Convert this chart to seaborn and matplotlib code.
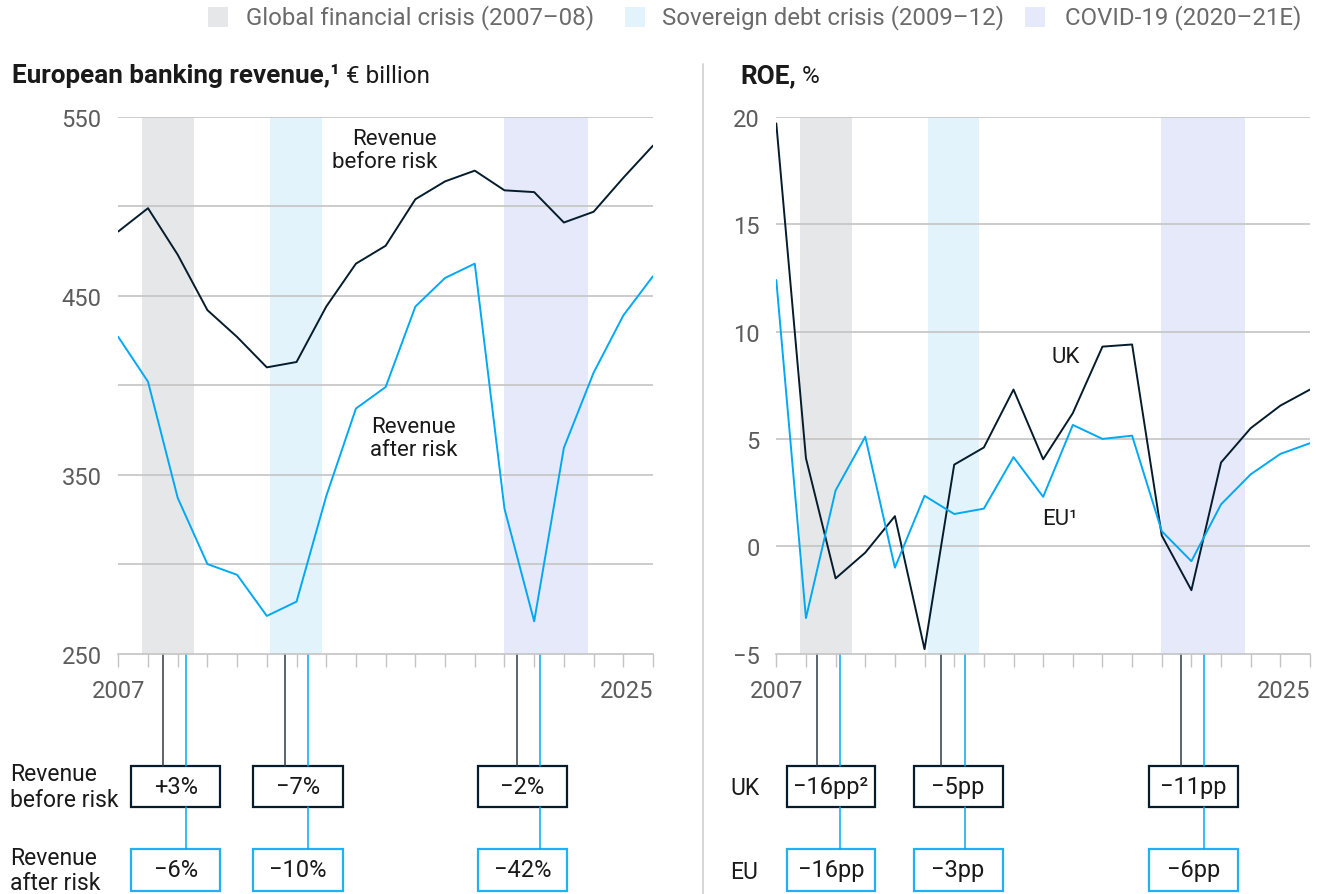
import matplotlib
matplotlib.use("Agg")
import matplotlib.pyplot as plt
import matplotlib.transforms as mtransforms
from matplotlib.patches import Rectangle
from matplotlib.lines import Line2D
import pandas as pd
import seaborn as sns

# ---------------- data ----------------
years = list(range(2007, 2026))
revenue_before_risk = [486, 499, 473, 442, 427, 410, 413, 444, 468, 478, 504, 514, 520,
                       509, 508, 491, 497, 516, 534]
revenue_after_risk = [427, 402, 337, 300, 294, 271, 279, 338, 387, 399, 444, 460, 468,
                      331, 268, 365, 407, 439, 461]
roe_uk = [19.7, 4.1, -1.5, -0.3, 1.4, -4.8, 3.8, 4.6, 7.3, 4.05, 6.2, 9.3, 9.4,
          0.5, -2.05, 3.9, 5.5, 6.55, 7.3]
roe_eu = [12.4, -3.35, 2.6, 5.1, -1.0, 2.35, 1.5, 1.75, 4.15, 2.3, 5.65, 5.0, 5.15,
          0.7, -0.7, 1.95, 3.35, 4.3, 4.8]

crisis_labels = ["Global financial crisis (2007–08)", "Sovereign debt crisis (2009–12)",
                 "COVID-19 (2020–21E)"]
crisis_start = [2007.80, 2012.12, 2019.98]
crisis_end = [2009.55, 2013.85, 2022.82]

rev_before_change = ["+3%", "−7%", "−2%"]
rev_after_change = ["−6%", "−10%", "−42%"]
uk_change = ["−16pp²", "−5pp", "−11pp"]
eu_change = ["−16pp", "−3pp", "−6pp"]

rev_yticks = [250, 350, 450, 550]
rev_grid = [300, 350, 400, 450, 500, 550]
roe_yticks = [-5, 0, 5, 10, 15, 20]
roe_grid = [0, 5, 10, 15, 20]

# ---------------- style ----------------
DARK = "#051c2c"
CYAN = "#00a9f4"
GRID = "#c4c4c4"
TICKC = "#5c5c5c"
crisis_colors = ["#e6e7e8", "#e2f3fc", "#e6e9f9"]

sns.set_theme(style="white")
plt.rcParams['font.family'] = ['Roboto', 'DejaVu Sans']

W, H = 1328, 895
fig = plt.figure(figsize=(W / 100, H / 100), dpi=100)


def fx(px):
    return px / W


def fy(py):
    return 1 - py / H


axL = fig.add_axes([fx(118.3), fy(654.5), (653 - 118.3) / W, (654.5 - 118) / H])
axR = fig.add_axes([fx(776.3), fy(654.5), (1310 - 776.3) / W, (654.5 - 118) / H])

df_rev = pd.DataFrame({
    "year": years * 2,
    "value": revenue_before_risk + revenue_after_risk,
    "series": ["Revenue before risk"] * len(years) + ["Revenue after risk"] * len(years),
})
df_roe = pd.DataFrame({
    "year": years * 2,
    "value": roe_uk + roe_eu,
    "series": ["UK"] * len(years) + ["EU"] * len(years),
})

sns.lineplot(data=df_rev, x="year", y="value", hue="series",
             palette={"Revenue before risk": DARK, "Revenue after risk": CYAN},
             linewidth=1.4, legend=False, ax=axL, zorder=3)
sns.lineplot(data=df_roe, x="year", y="value", hue="series",
             palette={"UK": DARK, "EU": CYAN},
             linewidth=1.4, legend=False, ax=axR, zorder=3)


def style_axis(ax, ylim, grid_vals, ytick_vals):
    ax.set_xlim(years[0], years[-1])
    ax.set_ylim(*ylim)
    ax.set_xlabel("")
    ax.set_ylabel("")
    ax.patch.set_alpha(0)
    for s, e, c in zip(crisis_start, crisis_end, crisis_colors):
        ax.axvspan(s, e, color=c, lw=0, zorder=0)
    for v in grid_vals:
        ax.axhline(v, color=GRID, lw=1.2, zorder=1)
    for side in ["top", "right", "left"]:
        ax.spines[side].set_visible(False)
    ax.spines["bottom"].set_color(GRID)
    ax.spines["bottom"].set_linewidth(1.2)
    ax.set_xticks(years)
    ax.set_xticklabels([str(years[0])] + [""] * (len(years) - 2) + [str(years[-1])])
    ax.get_xticklabels()[-1].set_horizontalalignment("right")
    ax.tick_params(axis="x", direction="out", length=9.5, width=1, color=GRID,
                   pad=9, labelsize=17, labelcolor=TICKC, bottom=True)
    ax.set_yticks(ytick_vals)
    ax.set_yticklabels([str(v).replace("-", "−") for v in ytick_vals])
    ax.tick_params(axis="y", length=0, pad=12, labelsize=17, labelcolor=TICKC, left=True)
    ax.grid(False)


style_axis(axL, (250, 550), rev_grid, rev_yticks)
style_axis(axR, (-5, 20), roe_grid, roe_yticks)

# inline labels
axL.text(2017.73, 531.5, "Revenue\nbefore risk", ha="right", va="center",
         multialignment="right", fontsize=16, color="#1a1a1a", linespacing=1.15, zorder=4)
axL.text(2016.95, 370.5, "Revenue\nafter risk", ha="center", va="center",
         multialignment="center", fontsize=16, color="#1a1a1a", linespacing=1.15, zorder=4)
axR.text(2016.77, 8.82, "UK", ha="center", va="center", fontsize=16, color="#1a1a1a", zorder=4)
axR.text(2016.57, 1.27, "EU¹", ha="center", va="center", fontsize=16, color="#1a1a1a", zorder=4)

# titles (bold part + regular part on a common baseline)
renderer = fig.canvas.get_renderer()
title_y = fy(83.3)
tL = fig.text(fx(11.7), title_y, "European banking revenue,¹", fontsize=18.8,
              fontweight="bold", color="#1a1a1a", va="baseline", ha="left")
xL_end = tL.get_window_extent(renderer).x1 / W
fig.text(xL_end, title_y, " € billion", fontsize=17.5, color="#1a1a1a",
         va="baseline", ha="left")
tR = fig.text(fx(740), title_y, "ROE,", fontsize=18.8, fontweight="bold",
              color="#1a1a1a", va="baseline", ha="left")
xR_end = tR.get_window_extent(renderer).x1 / W
fig.text(xR_end, title_y, " %", fontsize=17.5, color="#1a1a1a", va="baseline", ha="left")

# legend
legend_box_x = [207.6, 625.0, 1025.0]
legend_text_x = [246.0, 662.0, 1065.0]
for bx, tx, lab, c in zip(legend_box_x, legend_text_x, crisis_labels, crisis_colors):
    fig.add_artist(Rectangle((fx(bx), fy(28)), 20 / W, 20 / H, transform=fig.transFigure,
                             facecolor=c, edgecolor="none"))
    fig.text(fx(tx), fy(18), lab, fontsize=17.3, color="#6b6b6b", va="center", ha="left")

# divider
fig.add_artist(Line2D([fx(702.7), fx(702.7)], [fy(65), 0], transform=fig.transFigure,
                      color="#cfcfcf", lw=1.2))

# ---------------- change boxes ----------------
axis_y = fy(654.5)
black_top, black_bot = fy(767), fy(808.3)
blue_top, blue_bot = fy(850.3), fy(891.7)
box_w = 3.0  # in years


def change_boxes(ax, black_x, blue_x, box_cx, top_vals, bot_vals):
    tr = mtransforms.blended_transform_factory(ax.transData, fig.transFigure)
    for bx, cx, box_c, tv, bv in zip(black_x, blue_x, box_cx, top_vals, bot_vals):
        ax.add_line(Line2D([bx, bx], [axis_y, black_top], transform=tr, color="#2e3b47",
                           lw=1.1, clip_on=False))
        ax.add_line(Line2D([cx, cx], [axis_y, black_top], transform=tr, color=CYAN,
                           lw=1.1, clip_on=False))
        ax.add_line(Line2D([cx, cx], [black_bot, blue_top], transform=tr, color=CYAN,
                           lw=1.1, clip_on=False))
        ax.add_patch(Rectangle((box_c - box_w / 2, black_bot), box_w, black_top - black_bot,
                               transform=tr, facecolor="white", edgecolor=DARK, lw=1.6,
                               clip_on=False))
        ax.add_patch(Rectangle((box_c - box_w / 2, blue_bot), box_w, blue_top - blue_bot,
                               transform=tr, facecolor="white", edgecolor="#1fb1f5", lw=1.6,
                               clip_on=False))
        ax.text(box_c, (black_top + black_bot) / 2, tv, transform=tr, ha="center",
                va="center", fontsize=17, color="#1a1a1a", clip_on=False)
        ax.text(box_c, (blue_top + blue_bot) / 2, bv, transform=tr, ha="center",
                va="center", fontsize=17, color="#1a1a1a", clip_on=False)


change_boxes(axL, [2008.505, 2012.61, 2020.42], [2009.28, 2013.37, 2021.20],
             [2008.93, 2013.05, 2020.61], rev_before_change, rev_after_change)
change_boxes(axR, [2008.37, 2012.56, 2020.66], [2009.16, 2013.35, 2021.44],
             [2008.845, 2013.13, 2021.07], uk_change, eu_change)

fig.text(fx(10), fy(787.5), "Revenue\nbefore risk", fontsize=16.5, color="#1a1a1a",
         va="center", ha="left", linespacing=1.15)
fig.text(fx(10), fy(871), "Revenue\nafter risk", fontsize=16.5, color="#1a1a1a",
         va="center", ha="left", linespacing=1.15)
fig.text(fx(730), fy(789), "UK", fontsize=16.5, color="#1a1a1a", va="center", ha="left")
fig.text(fx(730), fy(873), "EU", fontsize=16.5, color="#1a1a1a", va="center", ha="left")

fig.savefig("out.png", dpi=100)
